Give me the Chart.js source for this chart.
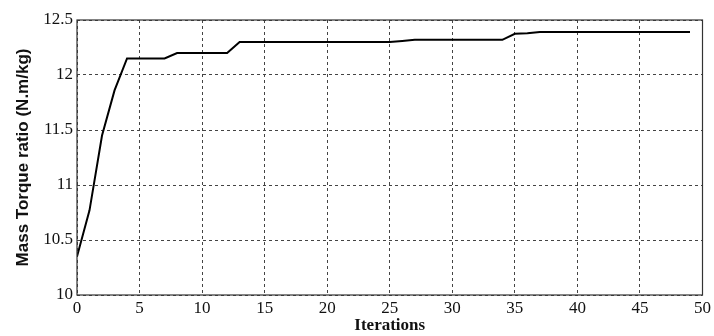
<!DOCTYPE html>
<html>
<head>
<meta charset="utf-8">
<script src="https://cdn.jsdelivr.net/npm/chart.js@4"></script>
<style>
  html, body { margin: 0; padding: 0; background: #fff; }
  #wrap { width: 714px; height: 336px; }
</style>
</head>
<body>
<div id="wrap"><canvas id="torqueChart" width="714" height="336"></canvas></div>
<script>
// Datos
const iterations = [0, 1, 2, 3, 4, 5, 6, 7, 8, 9, 10, 11, 12, 13, 14, 15, 16, 17, 18, 19, 20, 21, 22, 23, 24,
  25, 26, 27, 28, 29, 30, 31, 32, 33, 34, 35, 36, 37, 38, 39, 40, 41, 42, 43, 44, 45, 46, 47, 48, 49];
const torqueRatio = [10.35, 10.77, 11.45, 11.86, 12.15, 12.15, 12.15, 12.15, 12.2, 12.2, 12.2, 12.2, 12.2,
  12.3, 12.3, 12.3, 12.3, 12.3, 12.3, 12.3, 12.3, 12.3, 12.3, 12.3, 12.3, 12.3, 12.31, 12.32, 12.32, 12.32,
  12.32, 12.32, 12.32, 12.32, 12.32, 12.375, 12.38, 12.39, 12.39, 12.39, 12.39, 12.39, 12.39, 12.39, 12.39,
  12.39, 12.39, 12.39, 12.39, 12.39];
const xTicks = [0, 5, 10, 15, 20, 25, 30, 35, 40, 45, 50];
const yTicks = [10, 10.5, 11, 11.5, 12, 12.5];

const points = iterations.map((it, i) => ({ x: it, y: torqueRatio[i] }));

// Marco completo alrededor del área del gráfico
const frameBox = {
  id: 'frameBox',
  afterDraw(chart) {
    const a = chart.chartArea;
    const ctx = chart.ctx;
    ctx.save();
    ctx.strokeStyle = '#333';
    ctx.lineWidth = 1.2;
    ctx.strokeRect(a.left, a.top, a.right - a.left, a.bottom - a.top);
    ctx.restore();
  }
};

const gridStyle = {
  color: '#444',
  lineWidth: 1,
  drawTicks: false
};

new Chart(document.getElementById('torqueChart').getContext('2d'), {
  type: 'line',
  data: {
    datasets: [{
      data: points,
      borderColor: '#000',
      borderWidth: 2,
      pointRadius: 0,
      tension: 0,
      fill: false
    }]
  },
  options: {
    responsive: false,
    animation: false,
    layout: { padding: { top: 20, right: 7, left: 0, bottom: 0 } },
    plugins: { legend: { display: false }, tooltip: { enabled: false } },
    scales: {
      x: {
        type: 'linear',
        min: 0,
        max: 50,
        afterBuildTicks: axis => { axis.ticks = xTicks.map(v => ({ value: v })); },
        afterFit: axis => { axis.height = 41; },
        grid: gridStyle,
        border: { display: false, dash: [3, 3] },
        ticks: {
          color: '#111',
          padding: 3,
          maxRotation: 0,
          font: { family: 'Liberation Serif', size: 17 },
          callback: v => String(v)
        },
        title: {
          display: true,
          text: 'Iterations',
          color: '#111',
          padding: { top: 1, bottom: 0 },
          font: { family: 'Liberation Serif', size: 17, weight: 'bold' }
        }
      },
      y: {
        min: 10,
        max: 12.5,
        afterBuildTicks: axis => { axis.ticks = yTicks.map(v => ({ value: v })); },
        afterFit: axis => { axis.width = 77; },
        grid: gridStyle,
        border: { display: false, dash: [3, 3] },
        ticks: {
          color: '#111',
          padding: 4,
          font: { family: 'Liberation Serif', size: 17 },
          callback: v => String(v)
        },
        title: {
          display: true,
          text: 'Mass Torque ratio (N.m/kg)',
          color: '#111',
          padding: { top: 13, bottom: 4 },
          font: { family: 'Liberation Sans', size: 17, weight: 'bold' }
        }
      }
    }
  },
  plugins: [frameBox]
});
</script>
</body>
</html>
